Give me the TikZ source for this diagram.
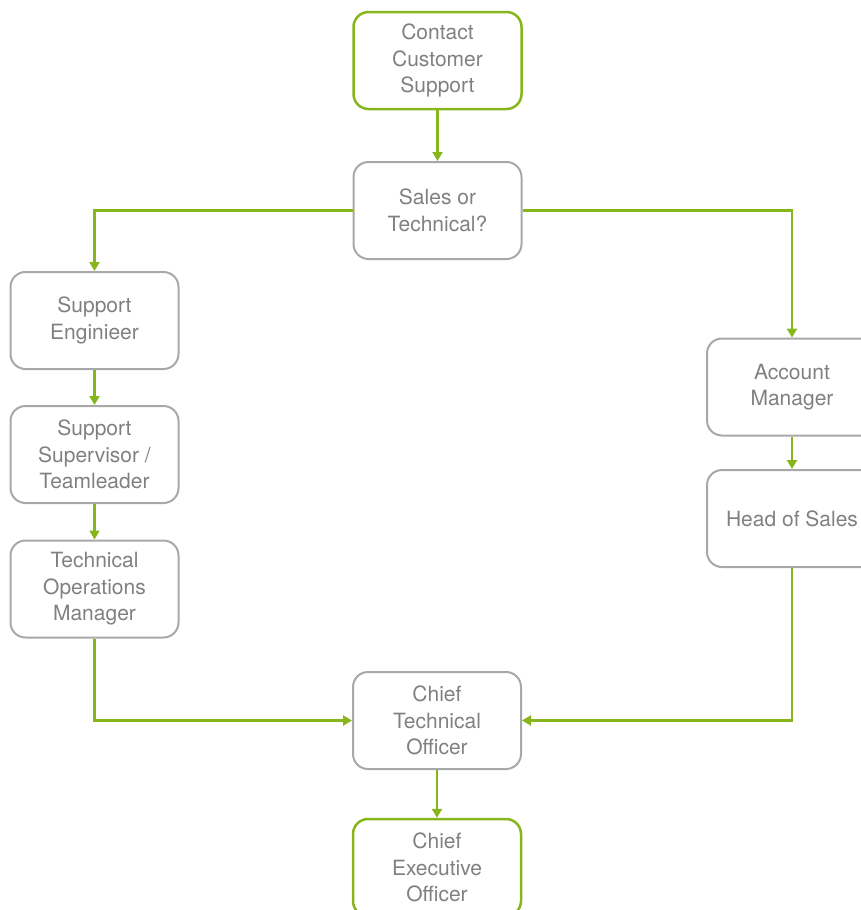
\documentclass[tikz,border=0pt]{standalone}
\usepackage{fontspec}
\setmainfont{TeX Gyre Heros}
\usetikzlibrary{arrows.meta}
\definecolor{lgreen}{RGB}{134,182,28}
\definecolor{boxgray}{RGB}{168,168,168}
\definecolor{txtgray}{RGB}{128,128,128}
\tikzset{
  stepbox/.style={draw=boxgray, line width=2pt, rounded corners=15pt,
    minimum width=168pt, minimum height=97pt, align=center, text=txtgray,
    font=\fontsize{21}{26.5}\selectfont, inner sep=0pt},
  endbox/.style={stepbox, draw=lgreen, line width=2.5pt},
  flow/.style={draw=lgreen, line width=2.5pt, -{Triangle[width=10pt,length=9pt]}}
}
\begin{document}
\begin{tikzpicture}[x=1pt,y=-1pt]
\useasboundingbox (0,0) rectangle (861,910);
\clip (0,0) rectangle (861,910);
\node[endbox] (contact) at (437.5,60.5) {Contact\\Customer\\Support};
\node[stepbox] (sales) at (437.5,210.5) {Sales or\\Technical?};
\node[stepbox] (eng) at (94.5,320.5) {Support\\Enginieer};
\node[stepbox] (sup) at (94.5,454.5) {Support\\Supervisor /\\Teamleader};
\node[stepbox] (tom) at (94.5,589) {Technical\\Operations\\Manager};
\node[stepbox, minimum width=170pt] (am) at (792,387) {Account\\Manager};
\node[stepbox, minimum width=170pt] (hos) at (792,518.5) {Head of Sales};
\node[stepbox] (cto) at (437,720.5) {Chief\\Technical\\Officer};
\node[endbox] (ceo) at (437,867.5) {Chief\\Executive\\Officer};
\draw[flow] (contact) -- (sales);
\draw[flow] (sales.west) -| (eng.north);
\draw[flow] (sales.east) -| (am.north);
\draw[flow] (eng) -- (sup);
\draw[flow] (sup) -- (tom);
\draw[flow] (am) -- (hos);
\draw[flow] (tom.south) |- (cto.west);
\draw[flow] (hos.south) |- (cto.east);
\draw[flow] (cto) -- (ceo);
\end{tikzpicture}
\end{document}
